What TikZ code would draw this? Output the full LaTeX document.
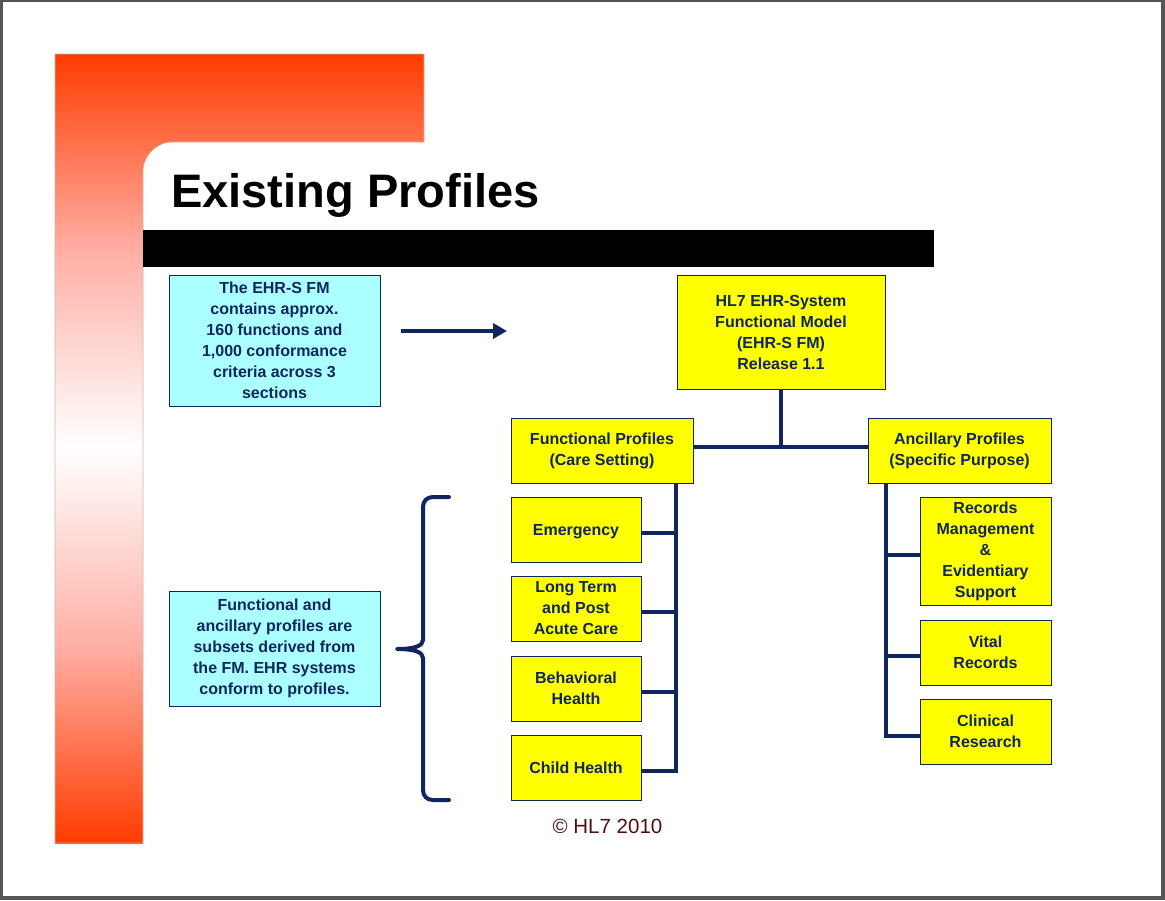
\documentclass[tikz,border=0pt]{standalone}
\usepackage{fontspec}
\setmainfont{Liberation Sans}
\usetikzlibrary{arrows.meta}
\definecolor{navy}{RGB}{16,38,96}
\definecolor{boxyellow}{RGB}{255,255,0}
\definecolor{boxcyan}{RGB}{172,255,255}
\definecolor{framegray}{RGB}{85,85,85}
\definecolor{redtop}{RGB}{255,60,0}
\definecolor{redmid}{RGB}{255,175,165}
\definecolor{Lborder}{RGB}{205,185,160}
\definecolor{copyred}{RGB}{80,14,14}
\tikzset{
  boxbase/.style={draw=navy, line width=0.9pt, inner sep=0pt, align=center,
    font=\fontsize{16}{21}\selectfont\bfseries, text=navy},
  ybox/.style={boxbase, fill=boxyellow},
  cbox/.style={boxbase, fill=boxcyan},
  conn/.style={draw=navy, line width=4pt},
}
\begin{document}
\begin{tikzpicture}[x=1pt,y=-1pt]
\useasboundingbox (0,0) rectangle (1165,900);
\fill[framegray] (0,0) rectangle (1165,900);
\fill[white] (3,2) rectangle (1161,896);
% red L-shaped band
\shade[top color=redtop, bottom color=white, middle color=redmid]
  (55,54) -- (424,54) -- (424,142) -- (173,142)
  .. controls (156.4,142) and (143,155.4) .. (143,172) -- (143,448.5) -- (55,448.5) -- cycle;
\shade[top color=white, bottom color=redtop, middle color=redmid]
  (55,448) -- (143,448) -- (143,843) -- (55,843) -- cycle;
\draw[Lborder, line width=0.6pt] (55,54) -- (424,54) -- (424,142) -- (173,142)
  .. controls (156.4,142) and (143,155.4) .. (143,172) -- (143,843) -- (55,843) -- cycle;
% title and black bar
\node[anchor=base west, inner sep=0pt, font=\fontsize{47}{50}\selectfont\bfseries] (title) at (171,207) {Existing Profiles};
\fill[black] (143,230) rectangle (934,267);
% boxes
\node[cbox, minimum width=211pt, minimum height=131pt] (fmtext) at (274.5,340.5)
  {The EHR-S FM\\contains approx.\\160 functions and\\1,000 conformance\\criteria across 3\\sections};
\node[cbox, minimum width=211pt, minimum height=115pt] (proftext) at (274.5,648.5)
  {Functional and\\ancillary profiles are\\subsets derived from\\the FM. EHR systems\\conform to profiles.};
\node[ybox, minimum width=208pt, minimum height=114pt] (hl7) at (781,332)
  {HL7 EHR-System\\Functional Model\\(EHR-S FM)\\Release 1.1};
\node[ybox, minimum width=182pt, minimum height=65pt] (func) at (602,450.5)
  {Functional Profiles\\(Care Setting)};
\node[ybox, minimum width=183pt, minimum height=65pt] (anc) at (959.5,450.5)
  {Ancillary Profiles\\(Specific Purpose)};
\node[ybox, minimum width=130pt, minimum height=65pt, text height=11.5pt, text depth=0.5pt] (emerg) at (576,529.5) {Emergency};
\node[ybox, minimum width=130pt, minimum height=65pt] (longt) at (576,608.5) {Long Term\\and Post\\Acute Care};
\node[ybox, minimum width=130pt, minimum height=65pt] (behav) at (576,688.5) {Behavioral\\Health};
\node[ybox, minimum width=130pt, minimum height=65pt] (child) at (576,767.5) {Child Health};
\node[ybox, minimum width=131pt, minimum height=108pt] (rec) at (985.5,551)
  {Records\\Management\\\&\\Evidentiary\\Support};
\node[ybox, minimum width=131pt, minimum height=65pt] (vital) at (985.5,652.5) {Vital\\Records};
\node[ybox, minimum width=131pt, minimum height=65pt] (clin) at (985.5,731.5) {Clinical\\Research};
% arrow
\coordinate (a1) at (401,331);
\coordinate (a2) at (507,331);
\draw[conn, -{Triangle[length=14pt,width=15pt]}] (a1) -- (a2);
% tree connectors
\coordinate (lbus) at (676,0);
\coordinate (rbus) at (886,0);
\coordinate (fe) at ([yshift=4pt]func.east);
\coordinate (aw) at ([yshift=4pt]anc.west);
\draw[conn] (hl7.south) -- (hl7.south |- fe);
\draw[conn] (fe) -- (aw);
\coordinate (e1) at ([yshift=-3.5pt]emerg.east);
\coordinate (e2) at ([yshift=-3.5pt]longt.east);
\coordinate (e3) at ([yshift=-3.5pt]behav.east);
\coordinate (e4) at ([yshift=-3.5pt]child.east);
\draw[conn] (lbus |- func.south) -- (lbus |- e4) -- (e4);
\draw[conn] (e1) -- (e1 -| lbus);
\draw[conn] (e2) -- (e2 -| lbus);
\draw[conn] (e3) -- (e3 -| lbus);
\coordinate (r1) at ([yshift=-4pt]rec.west);
\coordinate (r2) at ([yshift=-3.5pt]vital.west);
\coordinate (r3) at ([yshift=-4pt]clin.west);
\draw[conn] (rbus |- anc.south) -- (rbus |- r3) -- (r3);
\draw[conn] (r1) -- (r1 -| rbus);
\draw[conn] (r2) -- (r2 -| rbus);
% brace
\draw[navy, line width=4pt, line cap=round, line join=round]
  (449,497) -- (433,497) .. controls (427,497) and (423,501) .. (423,507)
  -- (423,640) .. controls (423,646) and (414,649) .. (397,649)
  .. controls (414,649) and (423,652) .. (423,658)
  -- (423,790) .. controls (423,796) and (427,800) .. (433,800) -- (449,800);
% copyright
\node[inner sep=0pt, text=copyred, font=\fontsize{20.5}{22}\selectfont] (copy) at (607.5,826) {© HL7 2010};
\end{tikzpicture}
\end{document}
